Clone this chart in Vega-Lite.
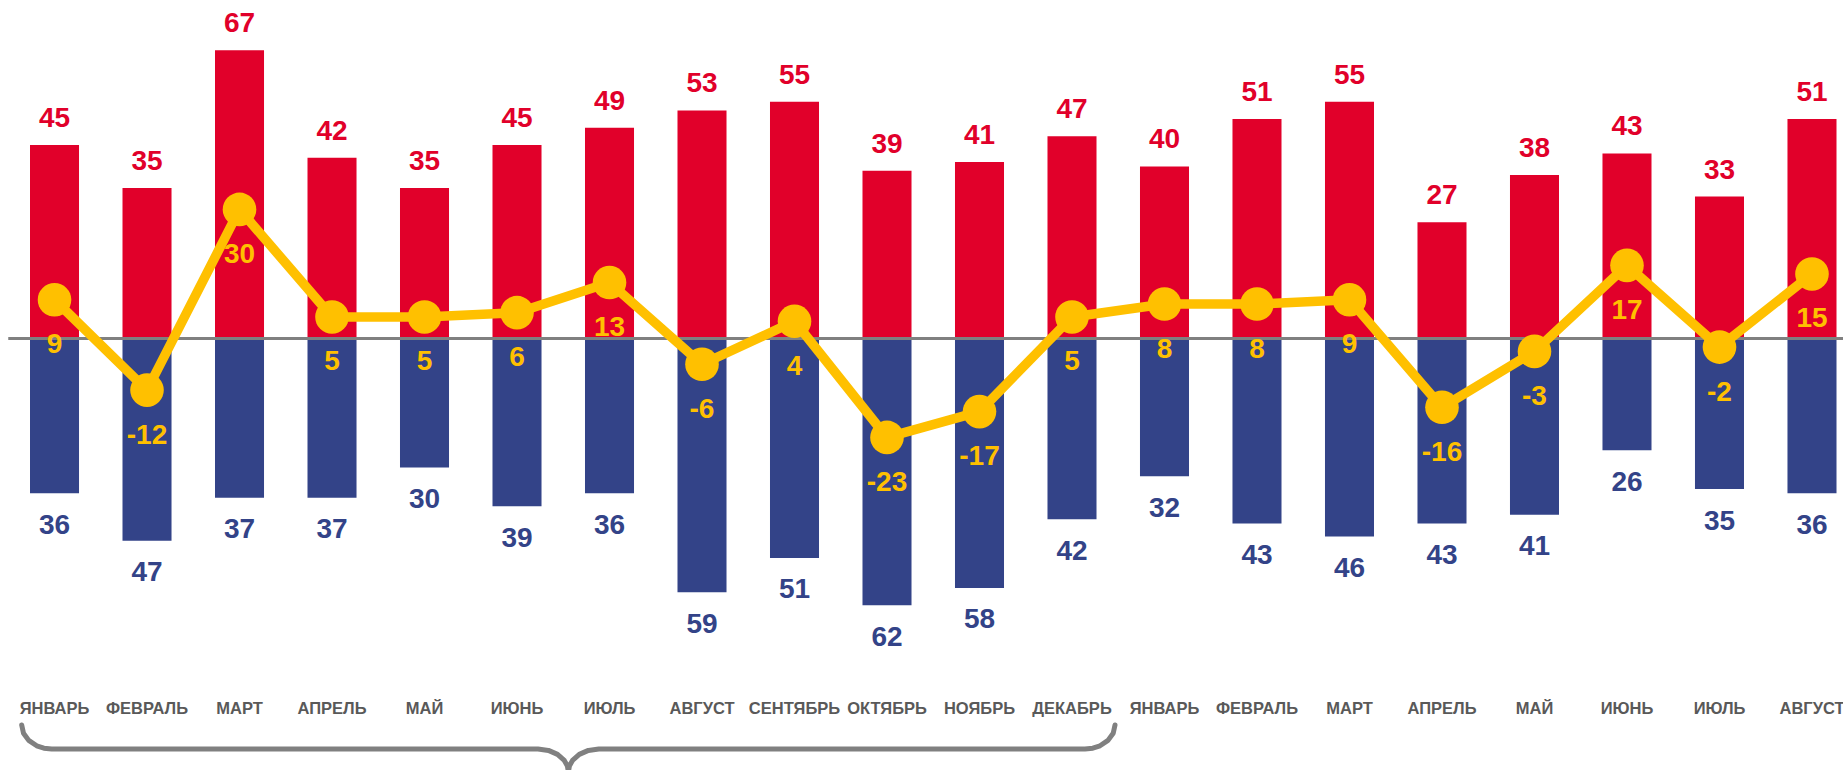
{
  "$schema": "https://vega.github.io/schema/vega-lite/v6.json",
  "width": 1843,
  "height": 690,
  "autosize": {"type": "none"},
  "padding": {"left": 0, "top": 0, "right": 0, "bottom": 80},
  "background": "white",
  "config": {
    "view": {"stroke": null},
    "text": {"font": "Liberation Sans", "fontWeight": "bold", "fontSize": 28}
  },
  "data": {
    "values": [
      {"key": "ЯНВАРЬ|1", "inflow": 45, "outflow": 36, "bal": 9},
      {"key": "ФЕВРАЛЬ|2", "inflow": 35, "outflow": 47, "bal": -12},
      {"key": "МАРТ|3", "inflow": 67, "outflow": 37, "bal": 30},
      {"key": "АПРЕЛЬ|4", "inflow": 42, "outflow": 37, "bal": 5},
      {"key": "МАЙ|5", "inflow": 35, "outflow": 30, "bal": 5},
      {"key": "ИЮНЬ|6", "inflow": 45, "outflow": 39, "bal": 6},
      {"key": "ИЮЛЬ|7", "inflow": 49, "outflow": 36, "bal": 13},
      {"key": "АВГУСТ|8", "inflow": 53, "outflow": 59, "bal": -6},
      {"key": "СЕНТЯБРЬ|9", "inflow": 55, "outflow": 51, "bal": 4},
      {"key": "ОКТЯБРЬ|10", "inflow": 39, "outflow": 62, "bal": -23},
      {"key": "НОЯБРЬ|11", "inflow": 41, "outflow": 58, "bal": -17},
      {"key": "ДЕКАБРЬ|12", "inflow": 47, "outflow": 42, "bal": 5},
      {"key": "ЯНВАРЬ|13", "inflow": 40, "outflow": 32, "bal": 8},
      {"key": "ФЕВРАЛЬ|14", "inflow": 51, "outflow": 43, "bal": 8},
      {"key": "МАРТ|15", "inflow": 55, "outflow": 46, "bal": 9},
      {"key": "АПРЕЛЬ|16", "inflow": 27, "outflow": 43, "bal": -16},
      {"key": "МАЙ|17", "inflow": 38, "outflow": 41, "bal": -3},
      {"key": "ИЮНЬ|18", "inflow": 43, "outflow": 26, "bal": 17},
      {"key": "ИЮЛЬ|19", "inflow": 33, "outflow": 35, "bal": -2},
      {"key": "АВГУСТ|20", "inflow": 51, "outflow": 36, "bal": 15}
    ]
  },
  "resolve": {
    "scale": {"x": "independent", "y": "independent"},
    "axis": {"x": "independent", "y": "independent"}
  },
  "layer": [
    {
      "encoding": {
        "x": {
          "field": "key", "type": "ordinal", "sort": null,
          "scale": {"type": "band", "range": [30, 1836.5], "paddingInner": 0.47, "paddingOuter": 0},
          "axis": {
            "title": null, "domain": false, "ticks": false, "grid": false,
            "labelExpr": "split(datum.value, '|')[0]",
            "labelAngle": 0, "labelFont": "Liberation Sans", "labelFontWeight": "bold",
            "labelFontSize": 16.5, "labelColor": "#595959", "labelPadding": 10,
            "labelOverlap": false, "labelBound": false, "labelLimit": 300
          }
        },
        "y": {
          "field": "inflow", "type": "quantitative",
          "scale": {"domain": [-81.71, 78.68], "nice": false, "zero": false},
          "axis": null
        }
      },
      "layer": [
        {"mark": {"type": "bar", "color": "#E1002A"}, "encoding": {"y2": {"datum": 0}}},
        {"mark": {"type": "text", "color": "#E1002A", "baseline": "alphabetic", "dy": -18},
         "encoding": {"text": {"field": "inflow", "type": "nominal"}}}
      ]
    },
    {
      "encoding": {
        "x": {
          "field": "key", "type": "ordinal", "sort": null,
          "scale": {"type": "band", "range": [30, 1836.5], "paddingInner": 0.47, "paddingOuter": 0},
          "axis": null
        },
        "y": {
          "field": "outflow", "type": "quantitative",
          "scale": {"domain": [-78.68, 81.71], "reverse": true, "nice": false, "zero": false},
          "axis": null
        }
      },
      "layer": [
        {"mark": {"type": "bar", "color": "#334388"}, "encoding": {"y2": {"datum": 0}}},
        {"mark": {"type": "text", "color": "#334388", "baseline": "alphabetic", "dy": 40.5},
         "encoding": {"text": {"field": "outflow", "type": "nominal"}}}
      ]
    },
    {
      "layer": [
        {
          "data": {"values": [{"t0": 0, "t1": 21, "z": 0}]},
          "mark": {"type": "rule", "color": "#808080", "strokeWidth": 3},
          "encoding": {
            "x": {"field": "t0", "type": "quantitative", "scale": {"domain": [0, 20], "range": [8.25, 1858.25], "nice": false, "zero": false}, "axis": null},
            "x2": {"field": "t1"},
            "y": {"field": "z", "type": "quantitative", "scale": {"domain": [-81.71, 78.68], "nice": false, "zero": false}, "axis": null}
          }
        },
        {
          "data": {"values": [
            {"k": 1, "t": 0.1454, "b": -89.84},
            {"k": 2, "t": 0.1649, "b": -91.75},
            {"k": 3, "t": 0.2211, "b": -93.42},
            {"k": 4, "t": 0.3076, "b": -94.68},
            {"k": 5, "t": 0.3854, "b": -95.23},
            {"k": 6, "t": 0.4697, "b": -95.42},
            {"k": 7, "t": 5.727, "b": -95.42},
            {"k": 8, "t": 5.8395, "b": -95.75},
            {"k": 9, "t": 5.938, "b": -96.68},
            {"k": 10, "t": 6.0114, "b": -98.09},
            {"k": 11, "t": 6.0449, "b": -99.37},
            {"k": 12, "t": 6.0557, "b": -100.77},
            {"k": 13, "t": 6.0665, "b": -99.37},
            {"k": 14, "t": 6.1, "b": -98.09},
            {"k": 15, "t": 6.1735, "b": -96.68},
            {"k": 16, "t": 6.2719, "b": -95.75},
            {"k": 17, "t": 6.3843, "b": -95.42},
            {"k": 18, "t": 11.6405, "b": -95.42},
            {"k": 19, "t": 11.725, "b": -95.23},
            {"k": 20, "t": 11.8027, "b": -94.68},
            {"k": 21, "t": 11.8892, "b": -93.42},
            {"k": 22, "t": 11.9454, "b": -91.75},
            {"k": 23, "t": 11.965, "b": -89.84}
          ]},
          "mark": {"type": "line", "color": "#808080", "strokeWidth": 5, "strokeCap": "round", "strokeJoin": "round", "clip": false},
          "encoding": {
            "x": {"field": "t", "type": "quantitative", "scale": {"domain": [0, 20], "range": [8.25, 1858.25], "nice": false, "zero": false}, "axis": null},
            "y": {"field": "b", "type": "quantitative", "scale": {"domain": [-81.71, 78.68], "nice": false, "zero": false}, "axis": null},
            "order": {"field": "k", "type": "quantitative"}
          }
        }
      ]
    },
    {
      "encoding": {
        "x": {
          "field": "key", "type": "ordinal", "sort": null,
          "scale": {"type": "band", "range": [30, 1836.5], "paddingInner": 0.47, "paddingOuter": 0},
          "axis": null
        },
        "y": {
          "field": "bal", "type": "quantitative",
          "scale": {"domain": [-81.71, 78.68], "nice": false, "zero": false},
          "axis": null
        }
      },
      "layer": [
        {"mark": {"type": "line", "color": "#FFC000", "strokeWidth": 9.5, "strokeJoin": "round"}},
        {"mark": {"type": "point", "shape": "circle", "filled": true, "color": "#FFC000", "opacity": 1, "size": 1130}},
        {"mark": {"type": "text", "color": "#FFC000", "baseline": "alphabetic", "dy": 53.5},
         "encoding": {"text": {"field": "bal", "type": "nominal"}}}
      ]
    }
  ]
}
